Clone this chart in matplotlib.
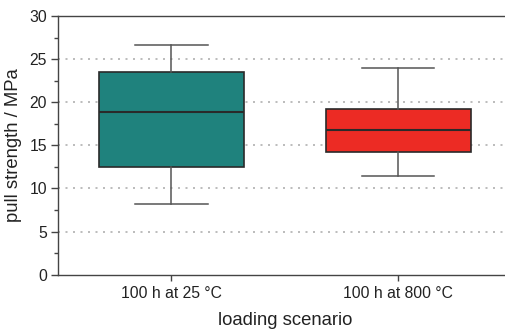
import matplotlib
matplotlib.use("Agg")
import matplotlib.pyplot as plt
from matplotlib.ticker import MultipleLocator

plt.rcParams['font.family'] = ['Liberation Sans', 'DejaVu Sans']

categories = ["100 h at 25 °C", "100 h at 800 °C"]
whisker_low = [8.2, 11.5]
q1 = [12.45, 14.2]
median = [18.9, 16.8]
q3 = [23.45, 19.2]
whisker_high = [26.65, 24.0]
colors = ["#1f827d", "#ec2b24"]

stats = []
for i, c in enumerate(categories):
    stats.append(dict(label=c, whislo=whisker_low[i], q1=q1[i], med=median[i],
                      q3=q3[i], whishi=whisker_high[i], fliers=[]))

fig = plt.figure(figsize=(5.06, 3.29), dpi=100)
ax = fig.add_axes([58/506, 1 - 274.7/329, 453.4/506, (274.7-16)/329])

bp = ax.bxp(stats, positions=[1, 2], widths=0.64, patch_artist=True,
            showfliers=False,
            boxprops=dict(edgecolor="#2a2a2a", linewidth=1.2),
            medianprops=dict(color="#2a2a2a", linewidth=1.5),
            whiskerprops=dict(color="#555555", linewidth=1.1),
            capprops=dict(color="#555555", linewidth=1.1),
            capwidths=0.32)
for patch, col in zip(bp['boxes'], colors):
    patch.set_facecolor(col)

ax.set_xlim(0.5, 2.5)
ax.set_ylim(0, 30)
ax.yaxis.set_major_locator(MultipleLocator(5))
ax.yaxis.set_minor_locator(MultipleLocator(2.5))
for y in [5, 10, 15, 20, 25]:
    ax.axhline(y, color="#b0b0b0", linestyle=(0, (1.2, 3.3)), linewidth=1.2, zorder=0)

for s in ['left', 'bottom', 'top']:
    ax.spines[s].set_color("#444444")
    ax.spines[s].set_linewidth(1.0)
ax.spines['right'].set_visible(False)

ax.tick_params(axis='y', which='major', direction='out', length=5, width=1, colors="#444444", labelcolor="#222222", labelsize=11.3, pad=3)
ax.tick_params(axis='y', which='minor', direction='out', length=3, width=1, colors="#444444")
ax.tick_params(axis='x', which='major', direction='out', length=4, width=1, colors="#444444", labelcolor="#222222", labelsize=11.3, pad=4)
ax.set_xticks([1, 2])
ax.set_xticklabels(categories)

ax.set_xlabel("loading scenario", fontsize=13.3, color="#222222", labelpad=8)
ax.set_ylabel("pull strength / MPa", fontsize=13.3, color="#222222", labelpad=5)

fig.savefig("out.png", dpi=100)
